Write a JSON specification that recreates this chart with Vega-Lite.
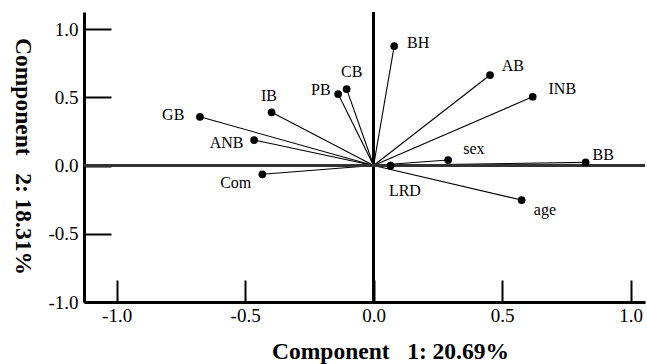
{
  "$schema": "https://vega.github.io/schema/vega-lite/v6.json",
  "width": 561,
  "height": 290,
  "autosize": {"type": "none"},
  "padding": {"left": 84, "top": 12, "right": 2, "bottom": 62},
  "background": "white",
  "config": {"view": {"stroke": null}, "font": "Liberation Serif"},
  "data": {
    "values": [
      {"name": "GB", "x": -0.676, "y": 0.357},
      {"name": "IB", "x": -0.397, "y": 0.39},
      {"name": "ANB", "x": -0.465, "y": 0.187},
      {"name": "Com", "x": -0.433, "y": -0.064},
      {"name": "PB", "x": -0.138, "y": 0.524},
      {"name": "CB", "x": -0.105, "y": 0.56},
      {"name": "BH", "x": 0.08, "y": 0.875},
      {"name": "AB", "x": 0.453, "y": 0.663},
      {"name": "INB", "x": 0.619, "y": 0.504},
      {"name": "sex", "x": 0.29, "y": 0.04},
      {"name": "BB", "x": 0.825, "y": 0.023},
      {"name": "LRD", "x": 0.066, "y": -0.001},
      {"name": "age", "x": 0.576, "y": -0.253}
    ]
  },
  "layer": [
    {
      "mark": {"type": "rule", "color": "#000", "strokeWidth": 1.1},
      "encoding": {
        "x": {
          "field": "x", "type": "quantitative",
          "scale": {"domain": [-1.127, 1.056], "nice": false, "zero": false},
          "axis": {
            "values": [-1, -0.5, 0, 0.5, 1],
            "labelExpr": "(datum.value < 0 ? '-' : '') + format(abs(datum.value), '.1f')",
            "grid": false, "labelFlush": false, "labelOverlap": false,
            "domainWidth": 3, "domainColor": "#000",
            "tickColor": "#000", "tickWidth": 2, "tickSize": -22,
            "labelPadding": 26, "labelFontSize": 19, "labelFont": "Liberation Serif", "labelColor": "#000",
            "title": "Component\u00a0\u00a0\u00a01: 20.69%",
            "titleFont": "Liberation Serif", "titleFontSize": 23.5, "titleFontWeight": "bold", "titleColor": "#000",
            "titleX": 306, "titleY": 49, "titleBaseline": "middle", "titleAlign": "center"
          }
        },
        "y": {
          "field": "y", "type": "quantitative",
          "scale": {"domain": [-1, 1.125], "nice": false, "zero": false},
          "axis": {
            "values": [-1, -0.5, 0, 0.5, 1],
            "labelExpr": "(datum.value < 0 ? '-' : '') + format(abs(datum.value), '.1f')",
            "grid": false, "labelFlush": false, "labelOverlap": false,
            "domainWidth": 3, "domainColor": "#000",
            "tickColor": "#000", "tickWidth": 2, "tickSize": -27,
            "labelPadding": 33, "labelFontSize": 19, "labelFont": "Liberation Serif", "labelColor": "#000",
            "title": "Component\u00a0\u00a0\u00a02: 18.31%",
            "titleFont": "Liberation Serif", "titleFontSize": 23.5, "titleFontWeight": "bold", "titleColor": "#000",
            "titleAngle": 90, "titleX": -61.5, "titleY": 144, "titleBaseline": "middle", "titleAlign": "center"
          }
        },
        "x2": {"datum": 0},
        "y2": {"datum": 0}
      }
    },
    {
      "mark": {"type": "rule", "color": "#000", "strokeWidth": 2},
      "encoding": {"x": {"datum": 0, "type": "quantitative"}}
    },
    {
      "mark": {"type": "rule", "color": "#333", "strokeWidth": 2},
      "encoding": {"y": {"datum": 0, "type": "quantitative"}}
    },
    {
      "mark": {"type": "point", "filled": true, "color": "#000", "size": 60, "opacity": 1},
      "encoding": {
        "x": {"field": "x", "type": "quantitative"},
        "y": {"field": "y", "type": "quantitative"}
      }
    },
    {"transform": [{"filter": "datum.name == 'GB'"}], "mark": {"type": "text", "font": "Liberation Serif", "fontSize": 16, "color": "#000", "align": "center", "baseline": "middle", "dx": -26.7, "dy": -1.7}, "encoding": {"x": {"field": "x", "type": "quantitative"}, "y": {"field": "y", "type": "quantitative"}, "text": {"field": "name"}}},
    {"transform": [{"filter": "datum.name == 'IB'"}], "mark": {"type": "text", "font": "Liberation Serif", "fontSize": 16, "color": "#000", "align": "center", "baseline": "middle", "dx": -2.7, "dy": -16.3}, "encoding": {"x": {"field": "x", "type": "quantitative"}, "y": {"field": "y", "type": "quantitative"}, "text": {"field": "name"}}},
    {"transform": [{"filter": "datum.name == 'ANB'"}], "mark": {"type": "text", "font": "Liberation Serif", "fontSize": 16, "color": "#000", "align": "center", "baseline": "middle", "dx": -27.6, "dy": 2.7}, "encoding": {"x": {"field": "x", "type": "quantitative"}, "y": {"field": "y", "type": "quantitative"}, "text": {"field": "name"}}},
    {"transform": [{"filter": "datum.name == 'Com'"}], "mark": {"type": "text", "font": "Liberation Serif", "fontSize": 16, "color": "#000", "align": "center", "baseline": "middle", "dx": -26.6, "dy": 8.4}, "encoding": {"x": {"field": "x", "type": "quantitative"}, "y": {"field": "y", "type": "quantitative"}, "text": {"field": "name"}}},
    {"transform": [{"filter": "datum.name == 'PB'"}], "mark": {"type": "text", "font": "Liberation Serif", "fontSize": 16, "color": "#000", "align": "center", "baseline": "middle", "dx": -17.3, "dy": -4}, "encoding": {"x": {"field": "x", "type": "quantitative"}, "y": {"field": "y", "type": "quantitative"}, "text": {"field": "name"}}},
    {"transform": [{"filter": "datum.name == 'CB'"}], "mark": {"type": "text", "font": "Liberation Serif", "fontSize": 16, "color": "#000", "align": "center", "baseline": "middle", "dx": 5, "dy": -17.3}, "encoding": {"x": {"field": "x", "type": "quantitative"}, "y": {"field": "y", "type": "quantitative"}, "text": {"field": "name"}}},
    {"transform": [{"filter": "datum.name == 'BH'"}], "mark": {"type": "text", "font": "Liberation Serif", "fontSize": 16, "color": "#000", "align": "center", "baseline": "middle", "dx": 24, "dy": -3.3}, "encoding": {"x": {"field": "x", "type": "quantitative"}, "y": {"field": "y", "type": "quantitative"}, "text": {"field": "name"}}},
    {"transform": [{"filter": "datum.name == 'AB'"}], "mark": {"type": "text", "font": "Liberation Serif", "fontSize": 16, "color": "#000", "align": "center", "baseline": "middle", "dx": 22.7, "dy": -9}, "encoding": {"x": {"field": "x", "type": "quantitative"}, "y": {"field": "y", "type": "quantitative"}, "text": {"field": "name"}}},
    {"transform": [{"filter": "datum.name == 'INB'"}], "mark": {"type": "text", "font": "Liberation Serif", "fontSize": 16, "color": "#000", "align": "center", "baseline": "middle", "dx": 29.6, "dy": -7.4}, "encoding": {"x": {"field": "x", "type": "quantitative"}, "y": {"field": "y", "type": "quantitative"}, "text": {"field": "name"}}},
    {"transform": [{"filter": "datum.name == 'sex'"}], "mark": {"type": "text", "font": "Liberation Serif", "fontSize": 16, "color": "#000", "align": "center", "baseline": "middle", "dx": 25.7, "dy": -11}, "encoding": {"x": {"field": "x", "type": "quantitative"}, "y": {"field": "y", "type": "quantitative"}, "text": {"field": "name"}}},
    {"transform": [{"filter": "datum.name == 'BB'"}], "mark": {"type": "text", "font": "Liberation Serif", "fontSize": 16, "color": "#000", "align": "center", "baseline": "middle", "dx": 17.6, "dy": -7.3}, "encoding": {"x": {"field": "x", "type": "quantitative"}, "y": {"field": "y", "type": "quantitative"}, "text": {"field": "name"}}},
    {"transform": [{"filter": "datum.name == 'LRD'"}], "mark": {"type": "text", "font": "Liberation Serif", "fontSize": 16, "color": "#000", "align": "center", "baseline": "middle", "dx": 14.3, "dy": 25.3}, "encoding": {"x": {"field": "x", "type": "quantitative"}, "y": {"field": "y", "type": "quantitative"}, "text": {"field": "name"}}},
    {"transform": [{"filter": "datum.name == 'age'"}], "mark": {"type": "text", "font": "Liberation Serif", "fontSize": 16, "color": "#000", "align": "center", "baseline": "middle", "dx": 23.3, "dy": 10}, "encoding": {"x": {"field": "x", "type": "quantitative"}, "y": {"field": "y", "type": "quantitative"}, "text": {"field": "name"}}}
  ]
}
